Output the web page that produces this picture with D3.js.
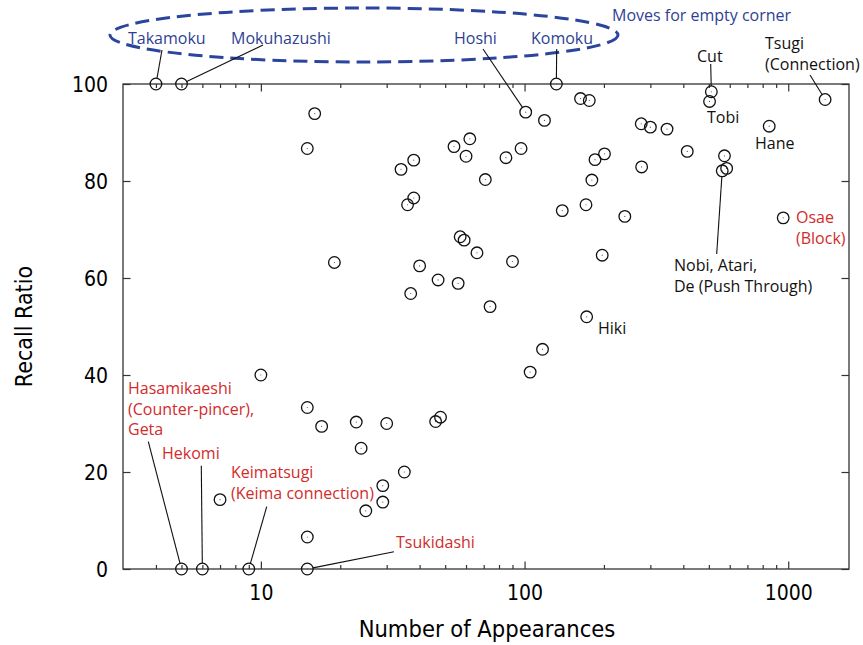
<!DOCTYPE html>
<html><head><meta charset="utf-8">
<script src="https://cdn.jsdelivr.net/npm/d3@7"></script>
<style>
body{margin:0;background:#fff;}
svg{display:block;}
.ax text{font-family:"DejaVu Sans Condensed","DejaVu Sans",sans-serif;font-size:21px;fill:#000;}
.ann{font-family:"Open Sans","Noto Sans",sans-serif;font-size:16px;}
</style></head>
<body>
<svg id="c" width="863" height="645"></svg>
<script>
// ---- data ----
const appearances = [4,5,16,15,19,10,15,17,23,30,24,35,29,29,25,7,15,5,6,9,15,
  101,132,163,176,119,62,54,60,38,34,97,85,71,38,36,57,59,66,90,40,47,56,37,74,172,117,105,46,48,
  511,503,1380,277,300,347,847,414,201,185,278,573,584,562,180,171,139,240,957,197];
const recallRatio = [100,100,93.9,86.7,63.2,40,33.3,29.4,30.3,30.0,24.9,20.0,17.2,13.8,12.0,14.3,6.6,0,0,0,0,
  94.2,100,97.0,96.6,92.5,88.7,87.1,85.1,84.3,82.4,86.7,84.8,80.3,76.5,75.1,68.5,67.8,65.2,63.4,62.5,59.6,58.9,56.8,54.1,52.0,45.3,40.6,30.4,31.3,
  98.4,96.4,96.8,91.8,91.1,90.7,91.3,86.1,85.6,84.4,82.9,85.2,82.6,82.1,80.2,75.1,73.9,72.7,72.4,64.7];
const yTicks = [0,20,40,60,80,100];
const xMajorTicks = [10,100,1000];
const xMinorTicks = [4,5,6,7,8,9,20,30,40,50,60,70,80,90,200,300,400,500,600,700,800,900];
const xTitle = "Number of Appearances";
const yTitle = "Recall Ratio";
const groupTitle = "Moves for empty corner";
// annotation texts with the index of the point they refer to
const annTexts = [
  {lines:["Takamoku"], point:0, kind:"corner"},
  {lines:["Mokuhazushi"], point:1, kind:"corner"},
  {lines:["Hoshi"], point:21, kind:"corner"},
  {lines:["Komoku"], point:22, kind:"corner"},
  {lines:["Cut"], point:50, kind:"high"},
  {lines:["Tsugi","(Connection)"], point:52, kind:"high"},
  {lines:["Tobi"], point:51, kind:"high"},
  {lines:["Hane"], point:56, kind:"high"},
  {lines:["Osae","(Block)"], point:68, kind:"low"},
  {lines:["Nobi, Atari,","De (Push Through)"], point:63, kind:"high"},
  {lines:["Hiki"], point:45, kind:"high"},
  {lines:["Hasamikaeshi","(Counter-pincer),","Geta"], point:17, kind:"low"},
  {lines:["Hekomi"], point:18, kind:"low"},
  {lines:["Keimatsugi","(Keima connection)"], point:19, kind:"low"},
  {lines:["Tsukidashi"], point:20, kind:"low"}
];
// ---- layout (pixel positions of labels & leader-line starts) ----
const annLayout = [
  {tx:128,ty:44, lx:162,ly:50},
  {tx:231,ty:44, lx:263,ly:45},
  {tx:454,ty:44, lx:483,ly:49},
  {tx:531,ty:44, lx:556.7,ly:49},
  {tx:697,ty:62, lx:710.7,ly:64},
  {tx:765,ty:49, lx:810,ly:75},
  {tx:707,ty:123},
  {tx:755,ty:149},
  {tx:796,ty:223},
  {tx:674,ty:271, lx:716.7,ly:254},
  {tx:598,ty:334},
  {tx:128,ty:394, lx:148.3,ly:441.7},
  {tx:162,ty:459, lx:201.3,ly:465.7},
  {tx:231,ty:478, lx:266.7,ly:506.7},
  {tx:396,ty:548, lx:394,ly:551.7}
];
const colors = {corner:"#2f3f93", high:"#111", low:"#d22b2b"};
const lineH = 20.5;

const svg = d3.select("#c");
const M = {l:123, r:849, t:84, b:569};
const x = d3.scaleLog().domain([3,1700]).range([M.l, M.r]);
const y = d3.scaleLinear().domain([0,100]).range([M.b, M.t]);
const R = 5.8;

// axes
const gB = svg.append("g").attr("class","ax").attr("transform",`translate(0,${M.b})`);
gB.call(d3.axisBottom(x).tickValues(xMajorTicks).tickSizeInner(-7.5).tickSizeOuter(0).tickPadding(15).tickFormat(d3.format("d")));
gB.append("g").call(d3.axisBottom(x).tickValues(xMinorTicks).tickSizeInner(-4).tickSizeOuter(0).tickFormat(""));
const gT = svg.append("g").attr("class","ax").attr("transform",`translate(0,${M.t})`);
gT.call(d3.axisTop(x).tickValues(xMajorTicks).tickSizeInner(-7.5).tickSizeOuter(0).tickFormat(""));
gT.append("g").call(d3.axisTop(x).tickValues(xMinorTicks).tickSizeInner(-4).tickSizeOuter(0).tickFormat(""));
const gL = svg.append("g").attr("class","ax").attr("transform",`translate(${M.l},0)`);
gL.call(d3.axisLeft(y).tickValues(yTicks).tickSizeInner(-7.5).tickSizeOuter(0).tickPadding(15));
const gR = svg.append("g").attr("class","ax").attr("transform",`translate(${M.r},0)`);
gR.call(d3.axisRight(y).tickValues(yTicks).tickSizeInner(-7.5).tickSizeOuter(0).tickFormat(""));
svg.selectAll(".ax .domain").remove();
svg.selectAll(".ax line").attr("stroke","#333").attr("stroke-width",1.2);
svg.selectAll(".ax .tick text").attr("dy", null).attr("dominant-baseline", null);
gB.selectAll(".tick text").attr("y", 15).attr("dy","0.76em");
gL.selectAll(".tick text").attr("dy","0.36em");

// frame
svg.append("rect").attr("x",M.l).attr("y",M.t).attr("width",M.r-M.l).attr("height",M.b-M.t)
  .attr("fill","none").attr("stroke","#333").attr("stroke-width",1.3);

// axis titles
svg.append("text").attr("x",487).attr("y",637)
  .attr("text-anchor","middle").style("font-family",'"DejaVu Sans Condensed","DejaVu Sans",sans-serif')
  .style("font-size","23.5px").text(xTitle);
svg.append("text").attr("transform",`translate(32,${(M.t+M.b)/2}) rotate(-90)`)
  .attr("text-anchor","middle").style("font-family",'"DejaVu Sans Condensed","DejaVu Sans",sans-serif')
  .style("font-size","23px").text(yTitle);

// group ellipse
svg.append("ellipse").attr("cx",364).attr("cy",35).attr("rx",254).attr("ry",27)
  .attr("fill","none").attr("stroke","#2b459e").attr("stroke-width",3).attr("stroke-dasharray","14 7");
svg.append("text").attr("class","ann").attr("x",612).attr("y",21).attr("fill",colors.corner).text(groupTitle);

// leader lines
annTexts.forEach((a,i)=>{
  const L = annLayout[i];
  if (L.lx===undefined) return;
  const px = x(appearances[a.point]), py = y(recallRatio[a.point]);
  const dx = L.lx-px, dy = L.ly-py, d = Math.hypot(dx,dy);
  svg.append("line").attr("x1",L.lx).attr("y1",L.ly)
    .attr("x2",px+dx/d*R).attr("y2",py+dy/d*R)
    .attr("stroke","#111").attr("stroke-width",1.1);
});

// points
const pts = svg.append("g");
appearances.forEach((v,i)=>{
  pts.append("circle").attr("cx",x(v)).attr("cy",y(recallRatio[i])).attr("r",R)
    .attr("fill","none").attr("stroke","#111").attr("stroke-width",1.3);
  pts.append("circle").attr("cx",x(v)).attr("cy",y(recallRatio[i])).attr("r",0.6).attr("fill","#555");
});

// annotation texts
annTexts.forEach((a,i)=>{
  const L = annLayout[i];
  const t = svg.append("text").attr("class","ann").attr("fill",colors[a.kind]);
  a.lines.forEach((s,j)=>{
    t.append("tspan").attr("x",L.tx).attr("y",L.ty+j*lineH).text(s);
  });
});
</script>
</body></html>
